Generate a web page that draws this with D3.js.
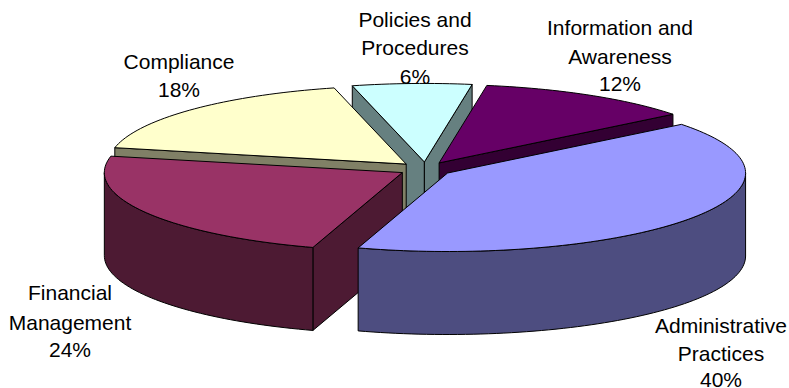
<!DOCTYPE html>
<html>
<head>
<meta charset="utf-8">
<script src="https://cdn.jsdelivr.net/npm/d3@7/dist/d3.min.js"></script>
<style>html,body{margin:0;padding:0;background:#fff;overflow:hidden}svg{display:block}</style>
</head>
<body>
<svg id="chart" width="789" height="388"></svg>
<script>
const categories = ["Policies and Procedures", "Information and Awareness", "Administrative Practices", "Financial Management", "Compliance"];
const values = [6.45, 11.8, 40.49, 23.5, 17.76];
const labelLines = [["Policies and", "Procedures", "6%"], ["Information and", "Awareness", "12%"], ["Administrative", "Practices", "40%"], ["Financial", "Management", "24%"], ["Compliance", "18%"]];

const topColors = ["#CCFFFF", "#660066", "#9999FF", "#993366", "#FFFFCC"];
const sideColors = ["#668080", "#330033", "#4D4D80", "#4D1A33", "#808066"];
const labelX = [415, 620, 721, 70, 179];
const labelBaselines = [[27, 55, 83.5], [34.5, 64, 91], [332.5, 360.5, 387], [299.5, 329.5, 357], [68.5, 97]];
const paintOrder = [0, 1, 4, 3, 2];

const cx = 425.5, cy = 169, rx = 298, ry = 78.5, depth = 83, explode = 0.09;
const rad = d => d * Math.PI / 180;

const svg = d3.select("#chart");
const pie = d3.pie().sort(null).startAngle(rad(-14)).endAngle(rad(346));
const arcs = pie(values);
const line = d3.line();

function rim(apex, a, dy = 0) {
  return [apex[0] + rx * Math.sin(a), apex[1] - ry * Math.cos(a) + dy];
}
function rimPts(apex, a0, a1, dy = 0) {
  const n = Math.max(2, Math.ceil(Math.abs(a1 - a0) / rad(1.5)));
  return d3.range(n + 1).map(i => rim(apex, a0 + (a1 - a0) * i / n, dy));
}
const style = (sel, fill) => sel.attr("fill", fill).attr("stroke", "#000").attr("stroke-width", 1).attr("stroke-linejoin", "round");

paintOrder.forEach(i => {
  const d = arcs[i];
  const mid = (d.startAngle + d.endAngle) / 2;
  const apex = [cx + explode * rx * Math.sin(mid), cy - explode * ry * Math.cos(mid)];
  const g = svg.append("g").attr("class", "slice").attr("data-name", categories[i]);
  const wall = pts => style(g.append("path").attr("d", line(pts) + "Z"), sideColors[i]);

  // cut faces that look toward the viewer: the start edge when it runs leftward
  // of the apex, the end edge when it runs rightward of it
  const p0 = rim(apex, d.startAngle), p1 = rim(apex, d.endAngle);
  if (p0[0] < apex[0]) wall([apex, p0, [p0[0], p0[1] + depth], [apex[0], apex[1] + depth]]);
  if (p1[0] > apex[0]) wall([apex, p1, [p1[0], p1[1] + depth], [apex[0], apex[1] + depth]]);

  // outer wall: only the part of the rim on the front half
  const lo = Math.max(d.startAngle, rad(90)), hi = Math.min(d.endAngle, rad(270));
  if (hi > lo) wall(rimPts(apex, lo, hi).concat(rimPts(apex, hi, lo, depth)));

  // top face
  style(g.append("path").attr("d", line([apex].concat(rimPts(apex, d.startAngle, d.endAngle))) + "Z"), topColors[i]);
});

labelLines.forEach((lines, i) => {
  const t = svg.append("text").attr("font-family", "'Liberation Sans', Arial, sans-serif").attr("font-size", 21).attr("fill", "#000").attr("text-anchor", "middle");
  lines.forEach((s, j) => t.append("tspan").attr("x", labelX[i]).attr("y", labelBaselines[i][j]).text(s));
});
</script>
</body>
</html>
